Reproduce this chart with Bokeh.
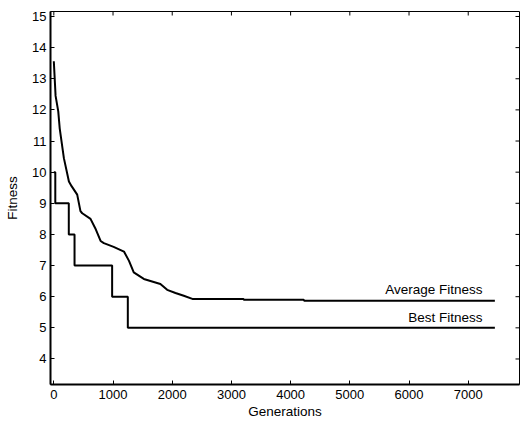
import math
from bokeh.plotting import figure
from bokeh.models import Range1d, FixedTicker, Label
from bokeh.embed import file_html
from bokeh.resources import INLINE

# Data
best_gen = [0, 25, 253, 350, 985, 1250, 7450]
best_fit = [10, 9, 8, 7, 6, 5, 5]

avg_gen = [0, 30, 75, 100, 170, 255, 300, 395, 450, 480, 620, 700, 790, 845,
           1010, 1185, 1270, 1350, 1520, 1800, 1915, 2055, 2195, 2340, 3200,
           3210, 4220, 4230, 7450]
avg_fit = [13.56, 12.45, 11.95, 11.4, 10.45, 9.7, 9.55, 9.28, 8.75, 8.68, 8.5,
           8.2, 7.79, 7.72, 7.6, 7.45, 7.15, 6.78, 6.57, 6.41, 6.22, 6.12, 6.03,
           5.93, 5.93, 5.90, 5.90, 5.87, 5.87]

x_ticks = [0, 1000, 2000, 3000, 4000, 5000, 6000, 7000]
y_ticks = [4, 5, 6, 7, 8, 9, 10, 11, 12, 13, 14, 15]

FONT = "Liberation Sans"
FS = "13px"
FS_L = "13.5px"

X0, X1 = -56, 7866
Y0, Y1 = 3.18, 15.16

p = figure(width=520, height=421, output_backend="svg", toolbar_location=None,
           x_range=Range1d(X0, X1), y_range=Range1d(Y0, Y1),
           min_border_left=50, min_border_right=1, min_border_top=11,
           min_border_bottom=36)
p.background_fill_color = "white"
p.border_fill_color = "white"
p.grid.visible = False
p.outline_line_color = "black"
p.outline_line_width = 1

for ax, ticks in ((p.xaxis[0], x_ticks), (p.yaxis[0], y_ticks)):
    ax.ticker = FixedTicker(ticks=ticks)
    ax.major_tick_in = 4
    ax.major_tick_out = 0
    ax.minor_tick_line_color = None
    ax.axis_line_width = 2
    ax.major_tick_line_width = 1
    ax.major_label_text_font = FONT
    ax.major_label_text_font_size = FS
    ax.major_label_text_color = "black"
    ax.axis_label_text_font = FONT
    ax.axis_label_text_font_size = FS_L
    ax.axis_label_text_font_style = "normal"
    ax.axis_label_text_color = "black"

p.xaxis.axis_label = "Generations"
p.yaxis.axis_label = "Fitness"
p.xaxis.major_label_standoff = 5
p.xaxis.axis_label_standoff = 2
p.yaxis.major_label_standoff = 4
p.yaxis.axis_label_standoff = 9

# inward ticks on the top and right borders (half of each dash is clipped by the frame)
p.scatter(x_ticks, [Y1] * len(x_ticks), marker="dash", size=8, angle=math.pi / 2,
          line_color="black", line_width=1)
p.scatter([X1] * len(y_ticks), y_ticks, marker="dash", size=8,
          line_color="black", line_width=1)

p.line(avg_gen, avg_fit, line_color="black", line_width=2)
p.step(best_gen, best_fit, mode="after", line_color="black", line_width=2)

p.add_layout(Label(x=7240, y=6.22, text="Average Fitness", text_align="right",
                   text_baseline="middle", text_font=FONT, text_font_size=FS_L,
                   text_color="black"))
p.add_layout(Label(x=7240, y=5.32, text="Best Fitness", text_align="right",
                   text_baseline="middle", text_font=FONT, text_font_size=FS_L,
                   text_color="black"))

open("out.html", "w").write(file_html(p, INLINE))
